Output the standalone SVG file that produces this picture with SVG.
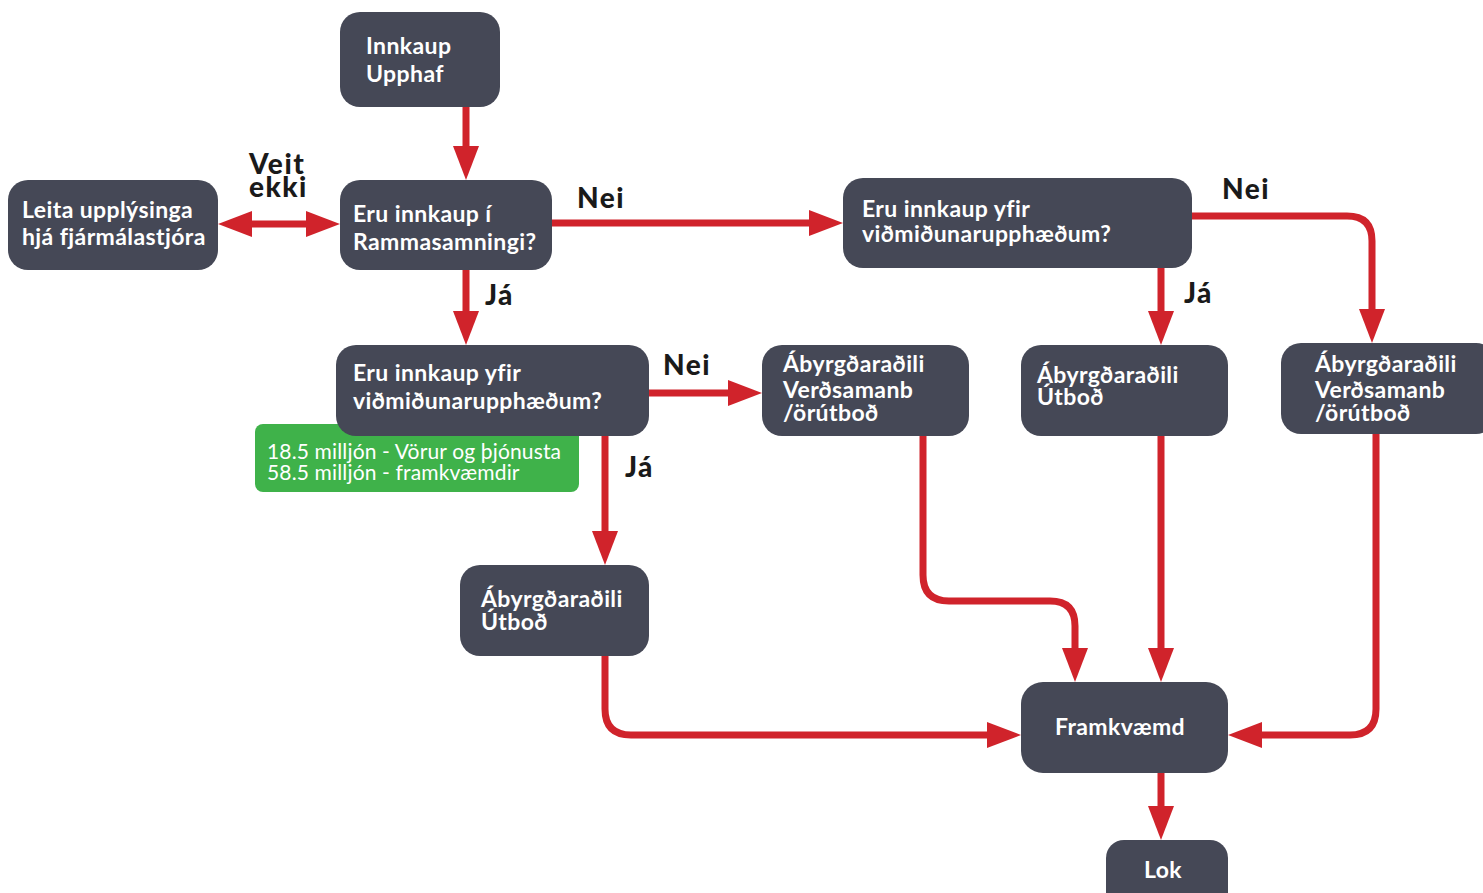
<svg xmlns="http://www.w3.org/2000/svg" width="1483" height="893" viewBox="0 0 1483 893">
<style>
.n{fill:#454856}
text{font-variant-ligatures:none}
.t{font-family:Lato,"Noto Sans",sans-serif;font-weight:700;font-size:23px;letter-spacing:0.4px;fill:#fff}
.g{font-family:Lato,"Noto Sans",sans-serif;font-weight:400;font-size:21px;letter-spacing:0.15px;fill:#fff}
.l{font-family:Lato,"Noto Sans",sans-serif;font-weight:900;font-size:28px;letter-spacing:1.5px;fill:#1a1a1a}
.c{fill:none;stroke:#d0232b;stroke-width:7}
</style>
<defs>
<marker id="a" markerUnits="userSpaceOnUse" markerWidth="36" markerHeight="26" refX="0" refY="13" orient="auto-start-reverse">
<path d="M0,0 L34,13 L0,26 z" fill="#d0232b"/>
</marker>
</defs>
<rect width="1483" height="893" fill="#fff"/>
<g id="connectors">
<path class="c" d="M466,107 V146" marker-end="url(#a)"/>
<path class="c" d="M252,224 H306" marker-start="url(#a)" marker-end="url(#a)"/>
<path class="c" d="M552,223 H809" marker-end="url(#a)"/>
<path class="c" d="M466,270 V311" marker-end="url(#a)"/>
<path class="c" d="M649,393 H728" marker-end="url(#a)"/>
<path class="c" d="M605,436 V531" marker-end="url(#a)"/>
<path class="c" d="M1161,268 V311" marker-end="url(#a)"/>
<path class="c" d="M1192,216 H1347 Q1372,216 1372,241 V309" marker-end="url(#a)"/>
<path class="c" d="M923,436 V575 Q923,601 949,601 H1050 Q1075,601 1075,626 V648" marker-end="url(#a)"/>
<path class="c" d="M1161,436 V648" marker-end="url(#a)"/>
<path class="c" d="M1376,434 V709 Q1376,735 1350,735 H1262" marker-end="url(#a)"/>
<path class="c" d="M605,656 V709 Q605,735 631,735 H987" marker-end="url(#a)"/>
<path class="c" d="M1161,773 V806" marker-end="url(#a)"/>
</g>
<g id="labels">
<text class="l" x="249" y="174">Veit</text>
<text class="l" x="249" y="197">ekki</text>
<text class="l" x="577" y="208">Nei</text>
<text class="l" x="485" y="305">Já</text>
<text class="l" x="663" y="375">Nei</text>
<text class="l" x="625" y="477">Já</text>
<text class="l" x="1184" y="303">Já</text>
<text class="l" x="1222" y="199">Nei</text>
</g>
<g id="n-upphaf"><rect class="n" x="340" y="12" width="160" height="95" rx="20"/>
<text class="t" x="366" y="54">Innkaup</text><text class="t" x="366" y="82">Upphaf</text></g>
<g id="n-leita"><rect class="n" x="8" y="180" width="210" height="90" rx="20"/>
<text class="t" x="22" y="218">Leita upplýsinga</text><text class="t" x="22" y="245">hjá fjármálastjóra</text></g>
<g id="n-ramma"><rect class="n" x="340" y="180" width="212" height="90" rx="20"/>
<text class="t" x="353" y="222">Eru innkaup í</text><text class="t" x="353" y="250">Rammasamningi?</text></g>
<g id="n-yfir2"><rect class="n" x="843" y="178" width="349" height="90" rx="20"/>
<text class="t" x="862" y="217">Eru innkaup yfir</text><text class="t" x="862" y="242">viðmiðunarupphæðum?</text></g>
<g id="n-green"><rect x="255" y="424" width="324" height="68" rx="8" fill="#3fb24a"/>
<text class="g" x="267" y="459">18.5 milljón - Vörur og þjónusta</text><text class="g" x="267" y="480">58.5 milljón - framkvæmdir</text></g>
<g id="n-yfir1"><rect class="n" x="336" y="345" width="313" height="91" rx="20"/>
<text class="t" x="353" y="381">Eru innkaup yfir</text><text class="t" x="353" y="409">viðmiðunarupphæðum?</text></g>
<g id="n-ab1"><rect class="n" x="762" y="345" width="207" height="91" rx="20"/>
<text class="t" x="783" y="372">Ábyrgðaraðili</text><text class="t" x="783" y="398">Verðsamanb</text><text class="t" x="783" y="421">/örútboð</text></g>
<g id="n-ab2"><rect class="n" x="1021" y="345" width="207" height="91" rx="20"/>
<text class="t" x="1037" y="383">Ábyrgðaraðili</text><text class="t" x="1037" y="405">Útboð</text></g>
<g id="n-ab3"><rect class="n" x="1281" y="343" width="215" height="91" rx="20"/>
<text class="t" x="1315" y="372">Ábyrgðaraðili</text><text class="t" x="1315" y="398">Verðsamanb</text><text class="t" x="1315" y="421">/örútboð</text></g>
<g id="n-ab4"><rect class="n" x="460" y="565" width="189" height="91" rx="20"/>
<text class="t" x="481" y="607">Ábyrgðaraðili</text><text class="t" x="481" y="630">Útboð</text></g>
<g id="n-framkvaemd"><rect class="n" x="1021" y="682" width="207" height="91" rx="22"/>
<text class="t" x="1120" y="735" text-anchor="middle">Framkvæmd</text></g>
<g id="n-lok"><rect class="n" x="1106" y="840" width="122" height="70" rx="18"/>
<text class="t" x="1163" y="878" text-anchor="middle">Lok</text></g>
</svg>
